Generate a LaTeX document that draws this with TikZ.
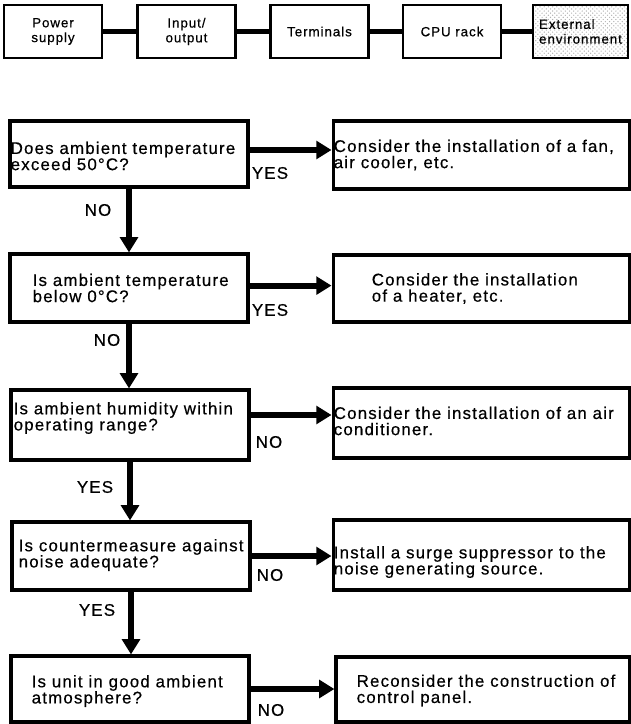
\documentclass[tikz,border=0pt]{standalone}
\usepackage{fontspec}
\usepackage{tikz}
\usetikzlibrary{arrows.meta,patterns}
\newfontfamily\chartfont[LetterSpace=7,FakeBold=0.5]{Liberation Sans}

\begin{document}
\begin{tikzpicture}[
    x=0.025cm, y=-0.025cm,
    font=\chartfont\fontsize{12}{11.5}\selectfont,
    unit/.style={draw, line width=1.6pt, minimum width=2.45cm, minimum height=1.32cm,
                 align=center, font=\chartfont\fontsize{9.5}{10.5}\selectfont},
    link/.style={line width=3.2pt},
    qbox/.style={draw, line width=2.2pt, minimum width=5.95cm},
    abox/.style={draw, line width=2.2pt, minimum width=7.42cm},
    txt/.style={anchor=west, align=left, inner sep=0pt},
    lbl/.style={inner sep=0pt},
    flow/.style={-{Triangle[length=3.8mm,width=4.4mm]}, line width=4.4pt}
]
\useasboundingbox (0,0) rectangle (631,724);

% unit chain
\node[unit] (pwr) at (53,31.5) {Power\\supply};
\node[unit] (io) at (186.5,31.5) {Input/\\output};
\node[unit] (term) at (319.5,31.5) {Terminals};
\node[unit] (cpu) at (452,31.5) {CPU rack};
\node[unit, minimum width=2.38cm, align=left, pattern=crosshatch dots, pattern color=black!30] (env) at (580.5,31.5) {External\\environment};
\draw[link] (pwr) -- (io);
\draw[link] (io) -- (term);
\draw[link] (term) -- (cpu);
\draw[link] (cpu) -- (env);

% checks
\node[qbox, minimum height=1.65cm] (q1) at (129,154) {};
\node[txt] (q1t) at ([xshift=0.5mm,yshift=-0.5mm]q1.west) {Does ambient temperature\\exceed 50°C?};
\node[abox, minimum height=1.7cm] (a1) at (481.5,155) {};
\node[txt] (a1t) at ([xshift=0.5mm]a1.west) {Consider the installation of a fan,\\air cooler, etc.};

\node[qbox, minimum height=1.7cm] (q2) at (129,288) {};
\node[txt] (q2t) at ([xshift=6mm]q2.west) {Is ambient temperature\\below 0°C?};
\node[abox, minimum height=1.675cm] (a2) at (481.5,288.5) {};
\node[txt] (a2t) at ([xshift=10mm]a2.west) {Consider the installation\\of a heater, etc.};

\node[qbox, minimum height=1.75cm] (q3) at (130,425) {};
\node[txt] (q3t) at ([xshift=1mm,yshift=1.75mm]q3.west) {Is ambient humidity within\\operating range?};
\node[abox, minimum height=1.75cm] (a3) at (481.5,423) {};
\node[txt] (a3t) at ([xshift=0.5mm,yshift=0.5mm]a3.west) {Consider the installation of an air\\conditioner.};

\node[qbox, minimum height=1.7cm] (q4) at (131,556) {};
\node[txt] (q4t) at ([xshift=2mm,yshift=0.25mm]q4.west) {Is countermeasure against\\noise adequate?};
\node[abox, minimum height=1.75cm] (a4) at (481.5,555) {};
\node[txt] (a4t) at ([xshift=0.5mm,yshift=-1.75mm]a4.west) {Install a surge suppressor to the\\noise generating source.};

\node[qbox, minimum height=1.65cm] (q5) at (130,689) {};
\node[txt] (q5t) at ([xshift=5.5mm,yshift=-0.5mm]q5.west) {Is unit in good ambient\\atmosphere?};
\node[abox, minimum width=7.35cm, minimum height=1.625cm] (a5) at (483,689.5) {};
\node[txt] (a5t) at ([xshift=5.5mm,yshift=-0.25mm]a5.west) {Reconsider the construction of\\control panel.};

% yes/no branches
\draw[flow] ([yshift=1mm]q1.east) -- ([yshift=1mm]q1.east -| a1.west);
\draw[flow] ([yshift=0.6mm]q2.east) -- ([yshift=0.6mm]q2.east -| a2.west);
\draw[flow] ([yshift=2.5mm]q3.east) -- ([yshift=2.5mm]q3.east -| a3.west);
\draw[flow] (q4.east) -- (q4.east -| a4.west);
\draw[flow] (q5.east) -- (q5.east -| a5.west);
\draw[flow] (q1.south) -- (q1.south |- q2.north);
\draw[flow] (q2.south) -- (q2.south |- q3.north);
\draw[flow] (q3.south) -- (q3.south |- q4.north);
\draw[flow] (q4.south) -- (q4.south |- q5.north);

\node[lbl] (yes1) at (270,173) {YES};
\node[lbl] (no1) at (98,210) {NO};
\node[lbl] (yes2) at (270,310) {YES};
\node[lbl] (no2) at (107,340) {NO};
\node[lbl] (no3) at (269,442) {NO};
\node[lbl] (yes3) at (95,487) {YES};
\node[lbl] (no4) at (270,575) {NO};
\node[lbl] (yes4) at (97,610) {YES};
\node[lbl] (no5) at (271,710) {NO};
\end{tikzpicture}
\end{document}
